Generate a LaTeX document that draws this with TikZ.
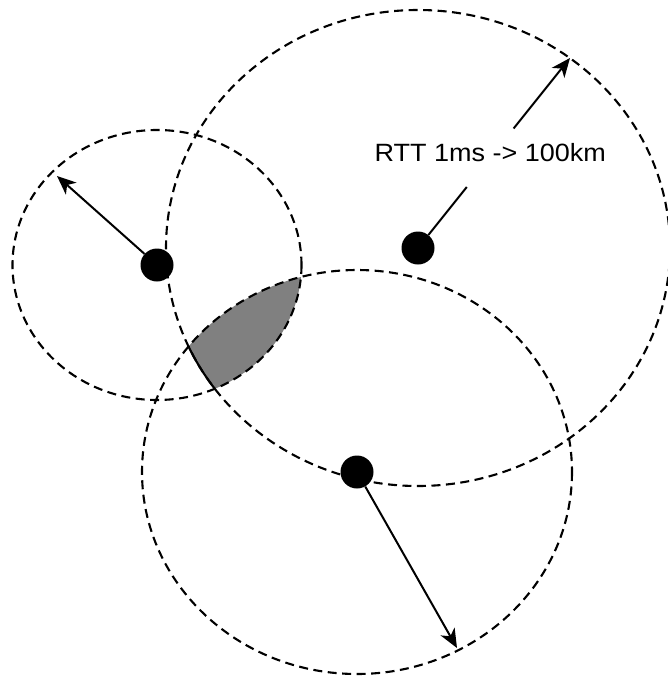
\documentclass[tikz,border=0pt]{standalone}
\usepackage{fontspec}
\setmainfont{Liberation Sans}[FakeStretch=1.08]
\usetikzlibrary{arrows.meta, calc}

\begin{document}
\begin{tikzpicture}[
  x=1pt, y=-1pt,
  font=\fontsize{25}{30}\selectfont,
  rangeline/.style={dash pattern=on 9pt off 5.5pt, line width=2.1pt},
  site/.style={circle, fill=black, minimum size=33pt, inner sep=0pt},
  reach/.style={-{Stealth[length=19pt, width=16pt, inset=5.5pt]}, line width=2pt},
  lbl/.style={inner xsep=4pt, inner ysep=15pt, text depth=10pt},
]
\useasboundingbox (0,0) rectangle (667,677);
% centres and radius ends
\coordinate (ca) at (157,265);
\coordinate (cb) at (418,248);
\coordinate (cc) at (357,472);
\coordinate (ta) at (57,176);
\coordinate (tb) at (570,58);
\coordinate (tc) at (457,648);
% overlap of all three ranges
\begin{scope}
  \clip (ca) ellipse (144.5 and 135);
  \clip (cb) ellipse (252 and 238);
  \fill[black!50] (cc) ellipse (215 and 202);
\end{scope}
\begin{scope}
  \clip (ca) ellipse (144.5 and 135);
  \clip (cc) ellipse (215 and 202);
  \draw[line width=2.1pt] (cb) ellipse (252 and 238);
\end{scope}
% ranges
\draw[rangeline] (ca) ellipse (144.5 and 135);
\draw[rangeline] (cb) ellipse (252 and 238);
\draw[rangeline] (cc) ellipse (215 and 202);
% sites
\node[site] (sa) at (ca) {};
\node[site] (sb) at (cb) {};
\node[site] (sc) at (cc) {};
% radii
\draw[reach] (sa) -- (ta);
\node[lbl] (rtt) at ($(cb)!0.475!(tb)$) {RTT 1ms -> 100km};
\draw[line width=2pt] (sb) -- (rtt);
\draw[reach] (rtt) -- (tb);
\draw[reach] (sc) -- (tc);
\end{tikzpicture}
\end{document}
